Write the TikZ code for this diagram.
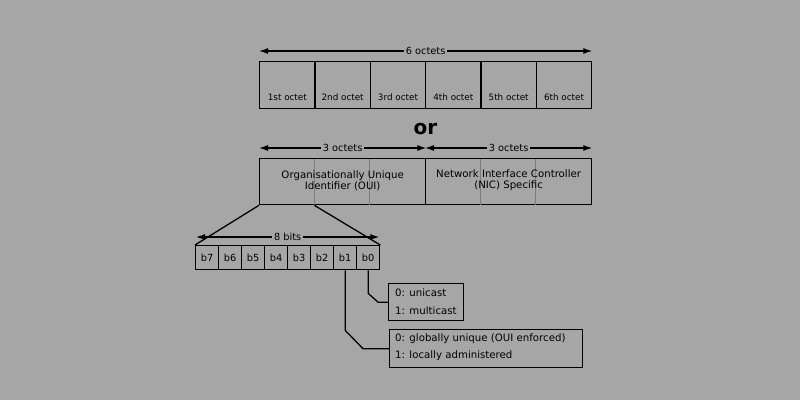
\documentclass[tikz,border=0pt]{standalone}
\usepackage{fontspec}
\setmainfont{DejaVu Sans}
\usetikzlibrary{arrows.meta,calc}
\definecolor{bg}{RGB}{166,166,166}
\definecolor{innerline}{RGB}{125,125,125}
\begin{document}
\begin{tikzpicture}[x=1pt,y=-1pt,
  box/.style={draw, line width=1.3pt, minimum width=55.33pt, minimum height=47pt, inner sep=0pt, anchor=north west},
  half/.style={draw, line width=1.3pt, minimum width=166pt, minimum height=46pt, inner sep=0pt, anchor=north west},
  bit/.style={draw, line width=1.3pt, minimum width=23pt, minimum height=24pt, inner sep=0pt, anchor=north west, font=\fontsize{9.8}{11}\selectfont},
  lab/.style={font=\fontsize{8.8}{10}\selectfont, inner sep=0pt},
  mid/.style={font=\fontsize{10.2}{11}\selectfont, inner sep=0pt, align=center},
  dim/.style={line width=1.2pt, {Latex[length=9pt,width=6pt]}-{Latex[length=9pt,width=6pt]}},
  dimlab/.style={font=\fontsize{9.8}{11}\selectfont, fill=bg, inner xsep=2pt, inner ysep=1pt},
  conn/.style={line width=1.3pt},
  info/.style={draw, line width=1.3pt, inner sep=0pt, anchor=north west},
  itext/.style={font=\fontsize{10.2}{12}\selectfont, inner sep=0pt, anchor=west}
]
\fill[bg] (0,0) rectangle (800,400);
\useasboundingbox (0,0) rectangle (800,400);

% top row
\foreach \i/\t in {1/1st octet,2/2nd octet,3/3rd octet,4/4th octet,5/5th octet,6/6th octet}{
  \node[box] (o\i) at ({259+55.333*(\i-1)},61) {};
  \node[lab] (t\i) at ($(o\i.south)+(0,-12)$) {\t};
}
\draw[dim] ($(o1.north west)+(0,-10)$) coordinate (a1) -- ($(o6.north east)+(0,-10)$) coordinate (a2)
  node[dimlab, pos=0.5] (l6) {6 octets};

\node[font=\bfseries\fontsize{20}{22}\selectfont, inner sep=0pt] (or) at (425.5,129.5) {or};

% second row
\node[half] (oui) at (259,158) {};
\node[half] (nic) at (425,158) {};
\foreach \k in {1,2}{
  \draw[draw=innerline, line width=0.8pt] ($(oui.north west)+(55.33*\k,0.7)$) -- ($(oui.south west)+(55.33*\k,-0.7)$);
  \draw[draw=innerline, line width=0.8pt] ($(nic.north west)+(55.33*\k,0.7)$) -- ($(nic.south west)+(55.33*\k,-0.7)$);
}
\node[mid] (ouit) at ($(oui.center)+(0,-1)$) {Organisationally Unique\\Identifier (OUI)};
\node[mid] (nict) at ($(nic.center)+(0,-1)$) {Network Interface Controller\\(NIC) Specific};
\draw[dim] ($(oui.north west)+(0,-10)$) -- ($(oui.north east)+(0,-10)$) node[dimlab, pos=0.5] (l3a) {3 octets};
\draw[dim] ($(nic.north west)+(0,-10)$) -- ($(nic.north east)+(0,-10)$) node[dimlab, pos=0.5] (l3b) {3 octets};

% bits
\foreach \b [count=\j from 0] in {7,6,5,4,3,2,1,0}{
  \node[bit] (b\b) at ({195+23*\j},245) {b\b};
}
\draw[conn] (oui.south west) -- (b7.north west);
\draw[conn] ($(oui.south west)+(55.33,0)$) -- (b0.north east);
\draw[dim] ($(b7.north west)+(1,-8)$) -- ($(b0.north east)+(-1,-8)$) node[dimlab, pos=0.5] (l8) {8 bits};

% info boxes
\node[info, minimum width=75pt, minimum height=37pt] (u) at (388,283) {};
\node[itext] (u0) at (395,293) {0: unicast};
\node[itext] (u1) at (395,311) {1: multicast};
\node[info, minimum width=193pt, minimum height=38pt] (g) at (389,329) {};
\node[itext] (g0) at (395,339) {0: globally unique (OUI enforced)};
\node[itext] (g1) at (395,356) {1: locally administered};

\draw[conn] (b0.south) -- ++(0,23) -- ($(u.west)+(-10,0)$) -- (u.west);
\draw[conn] (b1.south) -- ++(0,60) -- ($(g.west)+(-26,0)$) -- (g.west);
\end{tikzpicture}
\end{document}
